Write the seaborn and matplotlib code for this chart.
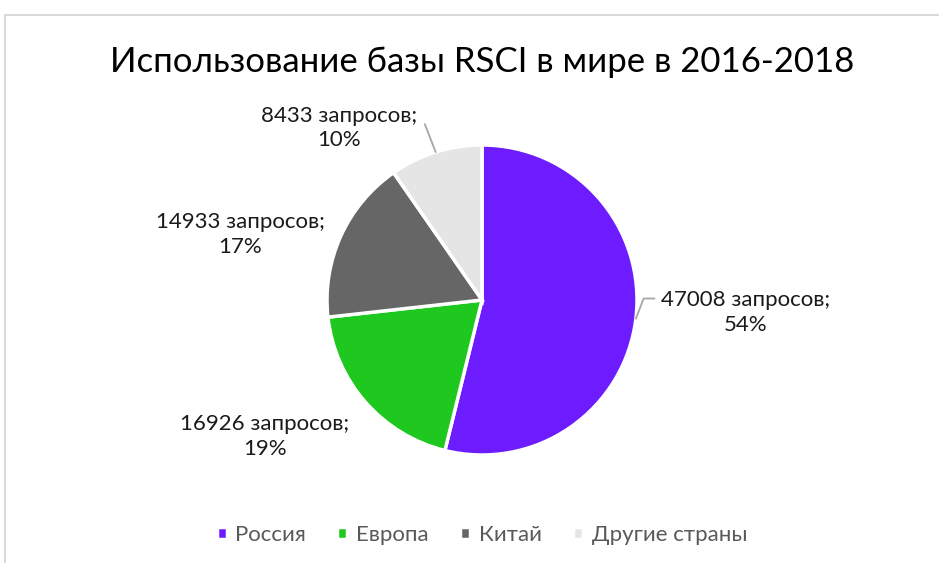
import matplotlib

matplotlib.use("Agg")
import matplotlib.pyplot as plt
import numpy as np
import seaborn as sns
from matplotlib.patches import Rectangle

TITLE = "Использование базы RSCI в мире в 2016-2018"
CATEGORIES = ["Россия", "Европа", "Китай", "Другие страны"]
REQUESTS = [47008, 16926, 14933, 8433]
PERCENT_LABELS = ["54%", "19%", "17%", "10%"]
COLORS = ["#6c1cff", "#1ec81e", "#666666", "#e5e5e5"]

# label centres (data units, radius = 1) and whether a leader line is drawn
LABEL_POS = [(1.70, -0.08), (-1.40, -0.88), (-1.56, 0.42), (-0.92, 1.11)]
LEADER = [True, False, False, True]

W, H, DPI = 939, 563, 100
CX, CY, R = 482, 263, 155  # pie centre from bottom-left, radius in px


def main() -> None:
    sns.set_theme(style="white")
    plt.rcParams["font.family"] = ["Lato", "DejaVu Sans"]

    fig = plt.figure(figsize=(W / DPI, H / DPI), dpi=DPI)
    fig.patch.set_facecolor("white")
    fig.patches.append(
        Rectangle((5 / W, -0.1), 1.2, (H - 15) / H + 0.1, transform=fig.transFigure,
                  facecolor="none", edgecolor="#d9d9d9", linewidth=1.5, zorder=0)
    )

    ax = fig.add_axes([0, 0, 1, 1])
    palette = sns.color_palette(COLORS)
    wedges, _ = ax.pie(
        REQUESTS,
        colors=palette,
        startangle=90,
        counterclock=False,
        radius=1,
        wedgeprops={"edgecolor": "white", "linewidth": 2.5},
    )
    ax.set_xlim(-CX / R, (W - CX) / R)
    ax.set_ylim(-CY / R, (H - CY) / R)
    ax.set_aspect("equal")
    ax.axis("off")

    for wedge, n, pct, pos, leader in zip(wedges, REQUESTS, PERCENT_LABELS, LABEL_POS, LEADER):
        mid = np.deg2rad((wedge.theta1 + wedge.theta2) / 2)
        edge = (np.cos(mid), np.sin(mid))
        ax.text(pos[0], pos[1], f"{n} запросов;\n{pct}", ha="center", va="center",
                fontsize=16, color="#1a1a1a", linespacing=1.3)
        if leader:
            if pos[0] > 0:
                pts = [edge, (edge[0] + 0.05, edge[1] + 0.13), (edge[0] + 0.12, edge[1] + 0.13)]
            else:
                pts = [edge, (edge[0] - 0.07, edge[1] + 0.18)]
            xs, ys = zip(*pts)
            ax.plot(xs, ys, color="#a6a6a6", linewidth=1.3)

    fig.text(CX / W, 1 - 62 / H, TITLE, ha="center", va="center", fontsize=25, color="#000000")

    leg = fig.legend(
        wedges, CATEGORIES, loc="center", bbox_to_anchor=(CX / W, 1 - 535 / H), ncol=4,
        frameon=False, fontsize=16, handlelength=0.45, handleheight=0.45, handletextpad=0.4,
        columnspacing=1.4,
    )
    for t in leg.get_texts():
        t.set_color("#595959")

    fig.savefig("out.png", dpi=DPI)


if __name__ == "__main__":
    main()
